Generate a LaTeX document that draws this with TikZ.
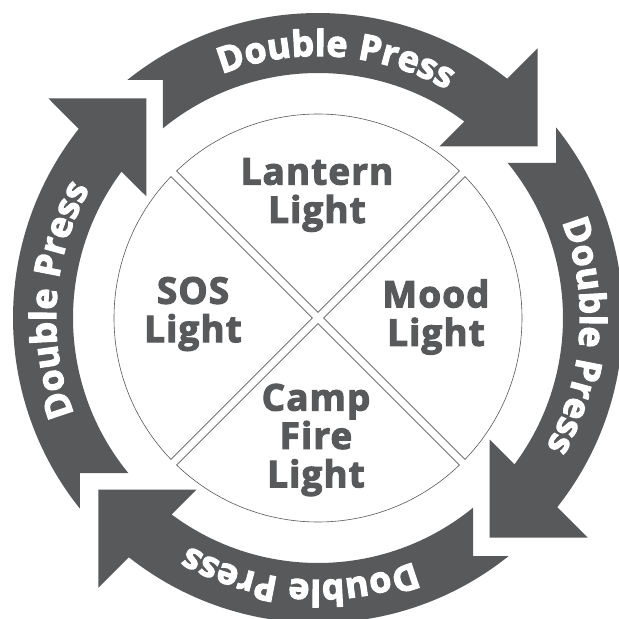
\documentclass[tikz,border=0pt]{standalone}
\usepackage{fontspec}
\setmainfont{Open Sans}[BoldFeatures={FakeBold=3,LetterSpace=3}]
\usepackage{tikz}
\usetikzlibrary{decorations.text}
\definecolor{pressgray}{RGB}{88,89,91}

\begin{document}
\begin{tikzpicture}[x=1bp,y=1bp,
  band/.style={fill=pressgray,draw=none},
  quarter/.style={draw=pressgray,line width=0.6bp,fill=white},
  lamp/.style={font=\fontsize{37}{38.5}\selectfont\bfseries,text=pressgray,align=center,inner sep=0pt},
  presstext/.style={decorate,decoration={text along path,text align=center,
    text={|\fontsize{36}{36}\selectfont\bfseries\color{white}|Double Press}}}]
  \useasboundingbox (-318,-301) rectangle (301,318);
  % four mode quarters
  \draw[quarter] (90:5.66) -- (133.88:204) arc[start angle=133.88,end angle=46.12,radius=204] -- cycle;
  \draw[quarter] (180:5.66) -- (223.88:204) arc[start angle=223.88,end angle=136.12,radius=204] -- cycle;
  \draw[quarter] (270:5.66) -- (313.88:204) arc[start angle=313.88,end angle=226.12,radius=204] -- cycle;
  \draw[quarter] (0:5.66) -- (43.88:204) arc[start angle=43.88,end angle=-43.88,radius=204] -- cycle;
  \node[lamp] (lantern) at (-1,123) {Lantern\\Light};
  \node[lamp] (sos) at (-125,4) {SOS\\Light};
  \node[lamp] (mood) at (118,1) {Mood\\Light};
  \node[lamp] (camp) at (-2,-122) {Camp\\Fire\\Light};
  % outer arrows
  \begin{scope}[rotate=0]
    \fill[band] (129.26:245) -- (-155,238) -- (128.7:305) arc[start angle=128.7,end angle=51.66,radius=305] -- (219.5,269.5) -- (219.5,171.5) -- (121.5,171.5) -- (53.3:245) arc[start angle=53.3,end angle=129.26,radius=245] -- cycle;
    \path[presstext] (176:262) arc[start angle=176,end angle=-4,radius=262];
  \end{scope}
  \begin{scope}[rotate=90]
    \fill[band] (129.26:245) -- (-155,238) -- (128.7:305) arc[start angle=128.7,end angle=51.66,radius=305] -- (219.5,269.5) -- (219.5,171.5) -- (121.5,171.5) -- (53.3:245) arc[start angle=53.3,end angle=129.26,radius=245] -- cycle;
    \path[presstext] (176:262) arc[start angle=176,end angle=-4,radius=262];
  \end{scope}
  \begin{scope}[rotate=180]
    \fill[band] (129.26:245) -- (-155,238) -- (128.7:305) arc[start angle=128.7,end angle=51.66,radius=305] -- (219.5,269.5) -- (219.5,171.5) -- (121.5,171.5) -- (53.3:245) arc[start angle=53.3,end angle=129.26,radius=245] -- cycle;
    \path[presstext] (176:262) arc[start angle=176,end angle=-4,radius=262];
  \end{scope}
  \begin{scope}[rotate=270]
    \fill[band] (129.26:245) -- (-155,238) -- (128.7:305) arc[start angle=128.7,end angle=51.66,radius=305] -- (219.5,269.5) -- (219.5,171.5) -- (121.5,171.5) -- (53.3:245) arc[start angle=53.3,end angle=129.26,radius=245] -- cycle;
    \path[presstext] (176:262) arc[start angle=176,end angle=-4,radius=262];
  \end{scope}
\end{tikzpicture}
\end{document}
